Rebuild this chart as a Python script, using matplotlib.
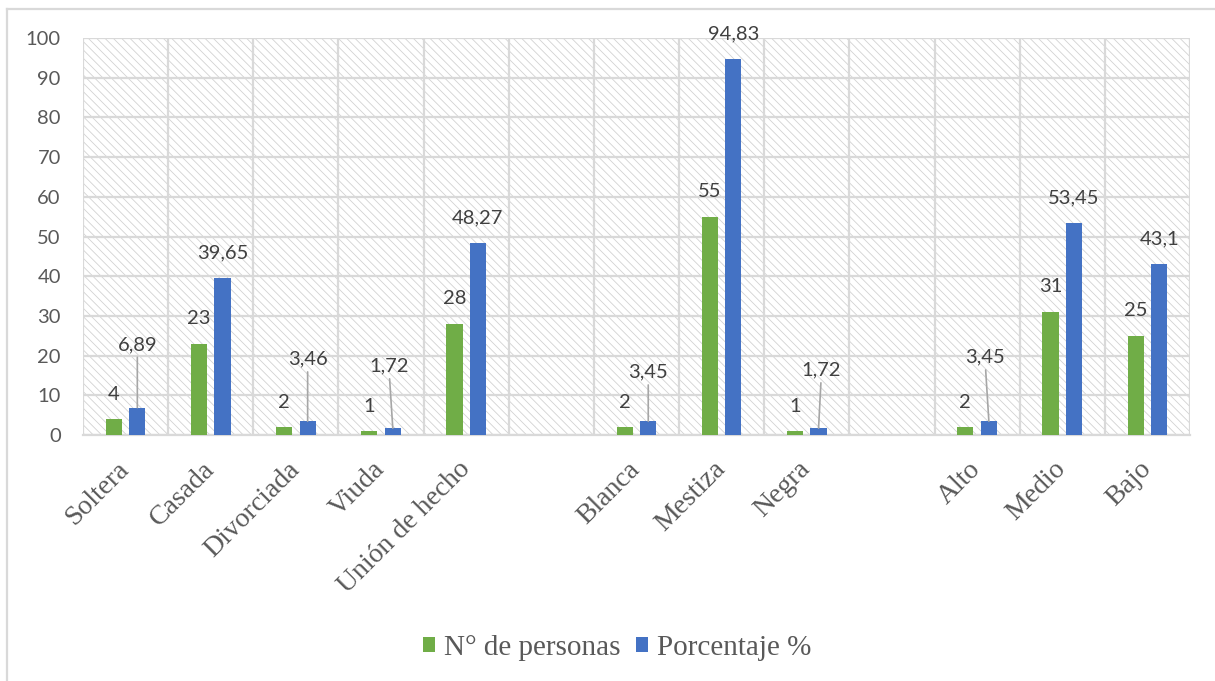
import numpy as np
import matplotlib.pyplot as plt
from matplotlib.patches import Rectangle
from matplotlib.lines import Line2D

# Datos del gráfico
categorias = ['Soltera', 'Casada', 'Divorciada', 'Viuda', 'Unión de hecho', '',
              'Blanca', 'Mestiza', 'Negra', '', 'Alto', 'Medio', 'Bajo']
personas = [4, 23, 2, 1, 28, np.nan, 2, 55, 1, np.nan, 2, 31, 25]
porcentaje = [6.89, 39.65, 3.46, 1.72, 48.27, np.nan, 3.45, 94.83, 1.72, np.nan, 3.45, 53.45, 43.1]
series = ['N° de personas', 'Porcentaje %']

# etiquetas desplazadas con línea guía: indice -> (dx, dy) en pixeles
guias = {0: (0, 63), 2: (0, 62), 3: (-4, 62), 6: (0, 49), 8: (3, 58), 10: (-4, 64)}

verde = '#70AD47'
azul = '#4472C4'
gris = '#d9d9d9'
sans = 'Lato'
serif = 'Liberation Serif'

fig = plt.figure(figsize=(12.15, 6.81), dpi=100)
ax = fig.add_axes([83 / 1215, 1 - 435 / 681, (1190 - 83) / 1215, (435 - 38) / 681])

x = np.arange(len(categorias))
ancho = 0.19
sep = 0.138

# fondo con trama
plt.rcParams['hatch.linewidth'] = 0.6
ax.add_patch(Rectangle((0, 0), 1, 1, transform=ax.transAxes, facecolor='white',
                       edgecolor='#d2d2d2', hatch='\\\\\\\\', lw=0, zorder=0.1))

v1 = np.array(personas, dtype=float)
v2 = np.array(porcentaje, dtype=float)
ok = ~np.isnan(v1)
b1 = ax.bar(x[ok] - sep, v1[ok], ancho, color=verde, label=series[0], zorder=3)
b2 = ax.bar(x[ok] + sep, v2[ok], ancho, color=azul, label=series[1], zorder=3)

# etiquetas de datos
for i in x[ok]:
    ax.annotate(f'{int(v1[i])}', (i - sep, v1[i]), xytext=(0, 25), textcoords='offset pixels',
                ha='center', va='center', fontsize=14.5, family=sans, color='#404040', zorder=5)
    txt = f'{v2[i]:g}'.replace('.', ',')
    if i in guias:
        dx, dy = guias[i]
        ax.annotate(txt, (i + sep, v2[i]), xytext=(dx, dy), textcoords='offset pixels',
                    ha='center', va='center', fontsize=14.5, family=sans, color='#404040', zorder=5,
                    arrowprops=dict(arrowstyle='-', color='#a6a6a6', lw=1.2, shrinkA=1, shrinkB=0))
    else:
        ax.annotate(txt, (i + sep, v2[i]), xytext=(0, 25), textcoords='offset pixels',
                    ha='center', va='center', fontsize=14.5, family=sans, color='#404040', zorder=5)

ax.set_xlim(-0.5, len(categorias) - 0.5)
ax.set_ylim(0, 100)
ax.set_yticks(np.arange(0, 101, 10))
ax.set_xticks(x)
ax.set_xticklabels(categorias, rotation=45, ha='right', va='center', rotation_mode='anchor',
                   fontsize=20, family=serif, color='#595959')
ax.set_xticks(np.arange(-0.5, len(categorias), 1), minor=True)
ax.tick_params(axis='x', which='both', length=0, pad=22)
ax.tick_params(axis='y', length=0, pad=16, labelsize=14.5, labelcolor='#595959')
for lab in ax.get_yticklabels():
    lab.set_family(sans)

ax.grid(axis='y', which='major', color=gris, lw=1.6)
ax.grid(axis='x', which='minor', color=gris, lw=1.6)
ax.set_axisbelow(True)
for s in ['top', 'right', 'left']:
    ax.spines[s].set_visible(False)
ax.spines['bottom'].set_color(gris)
ax.spines['bottom'].set_linewidth(1.6)

fig.legend(handles=[b1, b2], labels=series, loc='center', ncol=2,
           bbox_to_anchor=(617 / 1215, 1 - 648 / 681), frameon=False,
           prop={'family': serif, 'size': 21}, labelcolor='#595959',
           handlelength=0.42, handleheight=0.42, handletextpad=0.3, columnspacing=0.55)

# marco exterior
fig.add_artist(Line2D([6.5 / 1215, 6.5 / 1215], [0, 1 - 8.5 / 681], color=gris, lw=1.6))
fig.add_artist(Line2D([6.5 / 1215, 1], [1 - 8.5 / 681, 1 - 8.5 / 681], color=gris, lw=1.6))

plt.savefig('out.png', dpi=100)
